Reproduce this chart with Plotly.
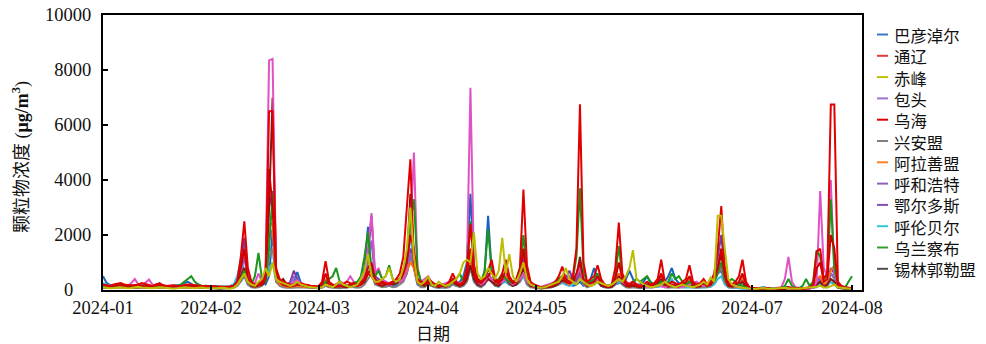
import plotly.graph_objects as go

# ---------------- data ----------------
MONTH_DAYS = [31, 29, 31, 30, 31, 30, 31]
tick_labels = ["2024-01", "2024-02", "2024-03", "2024-04", "2024-05", "2024-06", "2024-07", "2024-08"]
y_ticks = [0, 2000, 4000, 6000, 8000, 10000]
y_tick_labels = ["0", "2000", "4000", "6000", "8000", "10000"]
names = ["巴彦淖尔", "通辽", "赤峰", "包头", "乌海", "兴安盟", "阿拉善盟",
         "呼和浩特", "鄂尔多斯", "呼伦贝尔", "乌兰察布", "锡林郭勒盟"]

bayannur = [
    [500,260,180,150,170,140,120,130,150,160,140,120,130,150,140,120,110,120,130,140,150,160,180,250,300,220,160,140,130,150,140],
    [130,120,110,100,120,140,200,400,1000,700,200,150,120,150,300,200,500,2100,600,300,200,150,120,300,650,250,150,120,100],
    [100,90,120,200,150,100,120,150,100,90,120,150,200,400,800,2300,600,300,200,250,300,200,150,200,300,500,800,1200,900,300,200],
    [150,300,200,150,100,120,150,200,250,200,300,500,1000,3500,800,400,300,600,2700,700,300,400,500,300,200,300,250,400,600,300],
    [150,100,80,100,120,150,200,300,250,300,200,250,150,200,300,150,200,400,800,400,200,150,120,150,200,250,300,400,700,400,200],
    [200,300,500,250,150,120,200,300,500,800,400,250,150,120,100,150,200,150,120,200,300,400,600,700,300,150,100,80,70,60],
    [60,50,40,60,80,100,70,50,40,60,80,120,100,60,50,40,50,60,80,100,150,300,200,250,300,200,100,80,60,50,40],
]
tongliao = [
    [200,180,150,200,220,250,200,180,160,150,200,250,220,180,150,200,220,180,150,160,170,150,140,180,200,190,170,160,150,140,150],
    [140,130,120,110,120,130,150,300,1200,2500,800,300,200,180,250,400,6500,6500,800,400,300,250,200,180,200,250,200,180,150],
    [150,130,300,1050,300,200,150,120,200,300,250,200,150,200,400,600,500,300,200,300,250,200,300,400,600,1200,3000,4750,1000,400,300],
    [250,400,300,200,150,200,150,300,600,300,200,300,800,2400,900,400,300,500,700,1100,400,300,600,1100,500,300,400,800,3650,900],
    [300,200,150,100,120,150,200,300,500,850,400,300,500,1500,6750,1000,300,400,500,900,400,200,150,200,800,2450,600,300,200,300,200],
    [150,200,300,200,250,400,1100,300,200,300,250,200,300,400,900,300,200,250,400,200,300,600,1500,3050,800,300,200,300,500,1100],
    [300,100,80,60,50,60,70,50,40,60,80,60,100,80,60,50,60,80,100,200,1400,1500,400,600,6750,6750,300,150,100,80,60],
]
chifeng = [
    [100,80,60,70,90,100,80,60,70,100,120,90,80,70,60,80,100,90,70,60,50,60,80,100,90,70,60,80,90,70,60],
    [50,60,70,80,60,50,80,200,400,600,300,200,150,300,400,800,500,1000,400,300,250,200,150,200,300,200,150,120,100],
    [80,70,100,200,150,100,200,300,200,150,100,150,200,400,700,1300,500,300,300,400,500,800,400,300,400,800,1500,3000,1200,300,200],
    [300,500,200,150,300,200,150,200,300,400,600,1000,1100,1000,2100,600,400,500,800,600,400,700,1900,600,1300,500,300,600,1000,400],
    [200,150,100,80,100,150,200,250,300,500,800,400,300,200,400,300,200,150,200,300,250,200,150,200,300,400,300,500,800,1450,400],
    [300,200,150,100,120,150,200,300,200,150,100,150,200,150,120,100,150,200,300,200,450,300,2700,2700,1500,400,200,150,100,80],
    [60,50,40,50,60,70,50,40,50,60,70,80,60,50,40,50,60,70,80,100,120,150,100,80,150,200,100,80,60,50,40],
]
baotou = [
    [150,120,100,120,150,130,120,150,250,400,200,150,250,380,200,150,120,130,140,120,110,100,120,140,130,120,110,100,120,130,120],
    [110,100,90,100,120,110,100,200,400,600,300,200,250,600,300,500,8350,8400,600,300,200,150,200,300,350,250,200,150,120],
    [100,90,120,150,200,150,200,300,250,300,500,300,200,300,600,1500,2800,600,800,400,300,250,300,400,300,400,800,2000,5000,800,300],
    [400,500,300,200,150,200,250,300,400,300,250,300,800,7350,900,300,200,300,500,400,300,250,300,400,300,200,300,400,600,300],
    [200,150,100,120,150,200,250,300,400,500,400,300,400,500,800,400,300,200,300,400,300,200,150,200,300,400,300,200,250,300,200],
    [150,120,100,150,200,150,120,100,150,200,150,120,100,150,200,250,300,200,150,200,300,400,600,900,500,300,200,150,100,80],
    [60,50,40,50,60,50,40,50,60,80,100,400,1200,300,100,80,60,50,60,80,300,3600,800,500,4000,600,200,150,100,80,60],
]
wuhai = [
    [180,150,130,150,170,160,140,150,170,180,160,150,140,130,150,160,170,150,140,130,120,130,140,150,160,150,140,130,120,130,140],
    [130,120,110,100,110,120,150,300,800,1500,400,200,150,200,300,500,4400,3000,500,300,200,150,130,150,200,180,160,140,130],
    [120,110,200,600,200,150,200,300,200,150,200,250,200,300,400,800,1000,400,300,250,200,250,300,350,400,600,1000,2000,1500,400,250],
    [200,300,250,200,150,200,150,250,400,250,200,250,600,1500,600,300,250,400,500,700,300,250,400,700,400,250,300,600,1500,500],
    [200,150,120,100,110,130,150,200,300,500,300,250,300,600,1000,400,200,250,300,500,250,150,120,150,400,1000,400,200,150,200,150],
    [120,150,200,150,200,300,600,200,150,200,180,150,200,300,500,200,150,180,250,150,200,400,800,1500,500,200,150,200,300,600],
    [200,80,60,50,40,50,60,40,30,50,60,50,80,60,50,40,50,60,80,150,800,1000,300,400,2000,1500,200,100,80,60,50],
]
xinganmeng = [
    [80,70,60,70,80,90,80,70,60,70,80,90,100,90,80,70,60,70,80,90,100,110,100,90,80,70,60,70,80,70,60],
    [60,50,40,50,60,70,80,150,300,500,200,100,80,100,150,300,1200,1500,300,150,100,80,70,80,100,90,80,70,60],
    [50,60,80,150,100,80,70,60,80,100,120,100,80,100,200,400,600,200,150,100,120,150,100,120,200,300,600,1200,800,200,100],
    [100,200,150,100,80,100,80,100,200,150,100,150,300,800,300,150,100,200,400,300,150,120,300,400,200,150,200,300,600,200],
    [100,80,60,50,60,80,100,150,200,300,250,200,300,400,600,200,100,150,200,300,150,100,80,100,200,400,200,100,80,100,80],
    [60,80,100,80,100,150,300,100,80,100,90,80,100,150,200,100,80,90,120,100,150,300,600,800,300,100,80,100,150,200],
    [80,40,30,25,20,25,30,25,20,30,40,50,80,40,30,25,30,40,50,80,200,300,100,150,600,400,80,50,40,30,25],
]
alashan = [
    [100,90,80,90,100,110,100,90,80,90,100,110,120,110,100,90,80,90,100,110,120,110,100,90,100,110,100,90,80,90,100],
    [90,80,70,60,70,80,100,200,400,700,300,150,120,150,200,400,2400,2400,400,200,150,120,100,120,150,130,120,110,100],
    [90,80,150,400,150,100,120,150,120,100,150,200,150,200,300,600,800,300,200,150,200,250,200,250,300,400,700,1000,800,300,200],
    [150,250,200,150,100,150,120,200,300,200,150,200,400,1000,500,250,200,300,500,400,250,200,400,500,300,200,250,500,1000,400],
    [150,120,100,80,90,100,150,200,300,400,300,200,300,500,800,300,150,200,300,400,200,150,100,150,300,600,300,150,120,150,120],
    [100,120,150,120,150,200,500,150,120,150,130,120,150,200,400,150,120,130,200,150,200,400,700,1000,400,150,120,150,200,500],
    [150,60,50,40,35,40,50,40,35,50,60,50,80,60,50,40,50,60,80,120,400,500,200,300,700,900,150,100,80,60,50],
]
hohhot = [
    [150,130,120,130,150,140,130,120,140,160,150,140,130,120,110,120,130,140,150,140,130,120,130,150,170,160,150,140,130,120,130],
    [120,110,100,90,100,120,150,300,900,1900,500,250,200,250,400,600,3000,3600,600,300,200,150,300,700,400,200,150,130,120],
    [110,100,150,300,150,120,150,200,150,130,200,250,200,300,500,1200,2700,500,400,300,250,200,250,300,350,400,700,1500,1200,300,200],
    [200,350,250,200,150,200,150,250,400,250,200,250,500,1200,500,250,200,350,600,400,250,200,400,500,300,200,250,500,1200,400],
    [200,150,100,90,100,120,150,200,300,500,400,700,400,300,700,300,200,250,300,400,200,150,120,150,300,600,300,200,150,200,150],
    [120,150,200,150,200,300,500,200,150,200,180,150,200,250,400,200,150,180,250,180,200,500,1200,2000,600,250,150,200,250,400],
    [150,60,50,40,35,40,50,40,35,50,60,50,100,60,50,40,50,60,80,120,300,500,200,300,800,600,150,100,80,60,50],
]
ordos = [
    [120,110,100,110,120,130,120,110,100,110,120,130,140,130,120,110,100,110,120,130,140,150,140,130,120,110,100,110,120,110,100],
    [100,90,80,70,80,100,120,250,600,1200,400,200,150,200,300,500,1800,2200,500,250,180,150,200,500,300,180,150,120,110],
    [100,90,120,250,150,120,130,150,130,120,150,200,180,250,400,1000,1800,400,300,250,200,180,200,250,300,350,600,1300,1000,250,180],
    [180,300,200,180,130,180,130,200,350,200,180,200,400,1000,400,200,180,300,500,350,200,180,350,450,250,180,200,450,900,350],
    [180,130,90,80,90,110,130,180,250,400,350,500,350,250,500,250,180,200,250,350,180,130,110,130,250,500,250,180,130,180,130],
    [110,130,180,130,180,250,400,180,130,180,160,130,180,220,350,180,130,160,220,160,180,400,900,1500,500,220,130,180,220,350],
    [130,50,40,35,30,35,40,35,30,40,50,40,80,50,40,35,40,50,70,100,250,400,150,250,600,500,120,80,60,50,40],
]
hulunbuir = [
    [250,200,150,130,120,110,100,120,130,140,120,110,100,110,120,130,140,130,120,110,130,150,170,200,180,160,150,140,130,120,110],
    [140,150,130,120,130,150,200,500,1100,600,200,150,120,150,200,300,800,1000,300,200,150,250,200,180,150,130,120,110,100],
    [90,80,100,150,120,100,90,100,120,110,100,120,150,200,400,900,700,300,200,150,120,150,200,300,400,600,1200,2000,800,200,150],
    [150,250,150,100,80,100,80,120,200,150,120,150,300,900,300,150,120,200,600,300,150,120,250,300,200,150,200,300,500,200],
    [120,100,80,60,70,80,100,150,200,250,200,150,200,300,500,200,150,200,350,300,150,100,80,100,200,300,200,150,200,300,150],
    [120,150,250,150,120,100,150,200,250,400,200,150,100,80,100,80,90,100,80,100,120,200,400,500,200,100,80,70,60,50],
    [40,35,30,25,20,30,40,35,30,40,50,60,80,50,40,30,40,50,60,80,100,200,100,150,300,250,80,60,50,40,30],
]
ulanqab = [
    [150,130,120,140,160,200,180,150,130,120,140,160,150,130,120,110,130,150,140,130,120,150,200,300,400,500,300,200,150,130,120],
    [110,100,90,80,90,100,120,200,400,700,300,200,500,1350,400,300,1500,3500,600,300,200,150,130,150,200,180,150,130,120],
    [110,100,150,300,400,500,800,300,200,150,200,250,300,500,1200,2100,600,500,700,400,500,900,400,300,400,600,1000,2500,3300,800,300],
    [200,400,300,200,150,200,150,200,300,400,600,300,800,2500,800,400,300,700,2200,700,300,400,600,400,300,250,400,800,2000,600],
    [200,150,120,100,110,150,200,300,400,500,400,300,400,1200,3700,700,250,300,400,600,300,200,150,200,500,1600,500,300,200,300,400],
    [300,400,500,300,200,150,300,200,300,600,400,500,300,200,300,200,150,200,250,200,250,300,600,1000,400,300,400,300,200,150],
    [100,60,50,40,50,60,50,40,50,60,80,150,400,150,80,60,150,400,150,300,1450,1200,400,500,3300,800,200,100,80,300,500],
]
xilingol = [
    [100,90,80,90,150,200,120,100,90,100,110,100,90,100,150,200,250,150,100,90,80,90,100,110,100,90,80,90,100,90,80],
    [80,70,60,70,80,90,100,200,500,800,300,150,120,150,200,300,3000,7000,500,300,400,200,150,200,250,200,150,120,100],
    [90,80,120,300,150,100,120,150,120,100,150,200,150,200,300,600,800,300,200,150,200,250,200,250,300,500,1000,3500,1200,300,200],
    [150,250,200,150,100,150,120,200,300,200,150,200,400,900,400,200,150,250,400,300,200,150,300,400,250,150,200,400,800,300],
    [150,120,90,80,90,100,120,150,250,350,300,250,300,500,1200,300,150,200,250,350,150,120,100,120,250,500,250,150,120,150,120],
    [100,120,150,120,150,200,400,150,120,150,130,120,150,200,300,150,120,130,200,150,200,400,800,1300,400,150,120,150,200,300],
    [120,50,40,35,30,35,40,35,30,40,50,40,60,50,40,35,40,50,60,80,200,300,120,200,400,300,100,70,50,40,35],
]

series_values = [bayannur, tongliao, chifeng, baotou, wuhai, xinganmeng, alashan,
                 hohhot, ordos, hulunbuir, ulanqab, xilingol]

# ---------------- styles ----------------
line_colors = ["#1862C0", "#E00000", "#BDBD00", "#E052C4", "#CC0000", "#808080", "#FF6E12",
               "#7A3A9E", "#9060C8", "#34BFE0", "#1A961A", "#8A1414"]
legend_colors = ["#3A78C8", "#E03C3C", "#C0C000", "#A070D0", "#E00000", "#808080", "#FF7F27",
                 "#9060C0", "#8050B8", "#30C8E0", "#30A030", "#505050"]
draw_order = [0, 9, 5, 7, 8, 6, 11, 3, 10, 4, 1, 2]

W, H = 986, 344
L, R, T, B = 103, 862, 15, 290  # plot area pixels
tick_px = [103, 211, 319, 428, 536, 644, 752, 852]
px_per_day = (852 - 103) / 212.0
tick_vals = [(p - 103) / px_per_day for p in tick_px]
x_max = (R - L) / px_per_day


def flatten(months):
    out = []
    for m in months:
        out.extend(m)
    return out


problems = []
for nm, months in zip(names, series_values):
    for i, (m, n) in enumerate(zip(months, MONTH_DAYS)):
        if len(m) != n:
            problems.append(f"{nm}-{i+1}:{len(m)}")

fig = go.Figure()
for k in draw_order:
    vals = flatten(series_values[k])
    fig.add_trace(go.Scatter(
        x=list(range(len(vals))), y=vals, mode="lines", name=names[k],
        line=dict(color=line_colors[k], width=2), showlegend=False,
        hoverinfo="skip"))

serif = "Liberation Serif"
cjk = "Noto Sans CJK SC"

fig.update_layout(
    width=W, height=H,
    margin=dict(l=L, r=W - R, t=T, b=H - B, pad=0, autoexpand=False),
    paper_bgcolor="white", plot_bgcolor="white",
    showlegend=False,
    xaxis=dict(range=[0, x_max], tickmode="array", tickvals=tick_vals, ticktext=tick_labels,
               ticks="inside", ticklen=5, tickwidth=2, tickcolor="black",
               showline=True, linecolor="black", linewidth=2, mirror=True,
               showgrid=False, zeroline=False, automargin=False,
               tickfont=dict(family=serif, size=18.5, color="#111"),
               ticklabelstandoff=0),
    # the "0" label is placed separately (offset to the left, as in the reference)
    yaxis=dict(range=[0, 10000], tickmode="array", tickvals=y_ticks[1:], ticktext=y_tick_labels[1:],
               ticks="inside", ticklen=5, tickwidth=2, tickcolor="black",
               showline=True, linecolor="black", linewidth=2, mirror=True,
               showgrid=False, zeroline=False, automargin=False,
               tickfont=dict(family=serif, size=18.5, color="#111"),
               ticklabelstandoff=6),
)

ann = []
ann.append(dict(text=y_tick_labels[0], x=(68 - L) / (R - L), y=y_ticks[0], xref="paper", yref="y",
                showarrow=False, xanchor="center", yanchor="middle",
                font=dict(family=serif, size=18.5, color="#111")))
ann.append(dict(text="颗粒物浓度 (<b>μg/m<sup>3</sup></b>)", textangle=-90,
                x=(21 - L) / (R - L), y=(B - 157) / (B - T), xref="paper", yref="paper",
                showarrow=False, font=dict(family="Liberation Serif, Noto Sans CJK SC", size=18, color="#111"),
                xanchor="center", yanchor="middle"))
ann.append(dict(text="日期", x=(433 - L) / (R - L), y=(B - 332) / (B - T),
                xref="paper", yref="paper", showarrow=False,
                font=dict(family=cjk, size=17, color="#111"),
                xanchor="center", yanchor="middle"))

# legend drawn as sample lines + one multi-line text block
row_h = 21.3
shapes = []
for i, col in enumerate(legend_colors):
    yc = 34.5 + row_h * i
    yp = (B - yc) / (B - T)
    shapes.append(dict(type="line", xref="paper", yref="paper",
                       x0=(877 - L) / (R - L), x1=(888 - L) / (R - L), y0=yp, y1=yp,
                       line=dict(color=col, width=2)))
y_mid = 34.5 + row_h * (len(names) - 1) / 2
ann.append(dict(text="<br>".join(names), x=(893 - L) / (R - L), y=(B - y_mid) / (B - T),
                xref="paper", yref="paper", showarrow=False, align="left",
                xanchor="left", yanchor="middle", borderpad=0,
                font=dict(family=cjk, size=row_h / 1.3, color="#111")))

if problems:
    ann.append(dict(text=" ".join(problems), x=0.5, y=0.9, xref="paper", yref="paper",
                    showarrow=False, font=dict(size=12, color="red")))

fig.update_layout(annotations=ann, shapes=shapes)
fig.write_html("out.html")
